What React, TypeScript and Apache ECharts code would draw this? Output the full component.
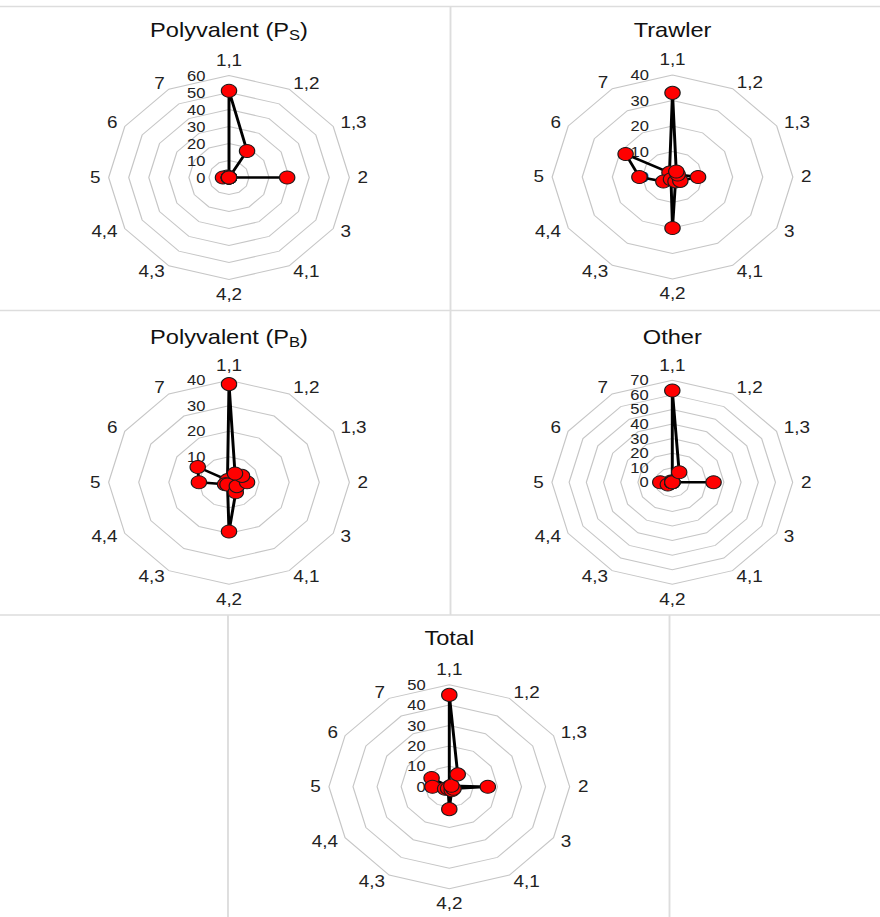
import React, { useEffect, useRef } from 'react';
import * as echarts from 'echarts';

// Radar axes, listed clockwise from the top
const indicatorNames = ['1,1', '1,2', '1,3', '2', '3', '4,1', '4,2', '4,3', '4,4', '5', '6', '7'];

// Percentages per axis for each fleet segment
const polyvalentPS = [51, 18, 0, 29, 0, 0, 0, 0, 0, 3, 1, 0];
const trawler = [33, 2.5, 2, 8.5, 3, 2, 20, 1, 3.5, 11, 18, 2];
const polyvalentPB = [38.5, 4, 5, 6, 3, 4.5, 19.3, 1, 1.5, 10, 12, 1];
const other = [63, 8, 0, 24, 0, 0, 0, 0, 3, 7, 1, 0];
const total = [45, 7, 1, 16, 2, 2, 11, 1, 2, 7, 8.5, 0];

const panelTitles = ['Polyvalent (P{s|S})', 'Trawler', 'Polyvalent (P{s|B})', 'Other', 'Total'];
const panelSeries = [polyvalentPS, trawler, polyvalentPB, other, total];
const axisMax = [60, 40, 40, 70, 50];
const axisSplits = [6, 4, 4, 7, 5];

// Page geometry (horizontal positions are given in page pixels and squeezed by STRETCH)
const PAGE_W = 880;
const PAGE_H = 917;
const STRETCH = 1.18;
const CHART_W = PAGE_W / STRETCH;
const RADIUS = 102;
const panelLayout = [
  { cx: 229, cy: 177.5, ty: 30 },
  { cx: 672.5, cy: 177, ty: 30 },
  { cx: 229, cy: 482.3, ty: 337 },
  { cx: 672.3, cy: 482.3, ty: 337 },
  { cx: 449.3, cy: 786.7, ty: 638 },
];

const FONT = "'Liberation Sans', Arial, Helvetica, sans-serif";
const FRAME = '#dddddd';
const INK = '#222222';

// ECharts lays radar axes out counter-clockwise; flip the order so they run clockwise
const clockwise = <T,>(a: T[]): T[] => [a[0], ...a.slice(1).reverse()];

export default function App() {
  const ref = useRef<HTMLDivElement>(null);

  useEffect(() => {
    if (!ref.current) return;
    const chart = echarts.init(ref.current, null, { renderer: 'svg' });

    const sx = (x: number) => x / STRETCH;
    const frameLine = (x1: number, y1: number, x2: number, y2: number) => ({
      type: 'line',
      silent: true,
      shape: { x1: sx(x1), y1, x2: sx(x2), y2 },
      style: { stroke: FRAME, lineWidth: 1.6 },
    });

    const names = clockwise(indicatorNames);

    chart.setOption({
      animation: false,
      backgroundColor: '#ffffff',
      title: panelLayout.map((p, i) => ({
        text: panelTitles[i],
        left: sx(p.cx),
        top: p.ty - 12,
        textAlign: 'center',
        padding: 0,
        textStyle: {
          fontFamily: FONT,
          fontSize: 20,
          fontWeight: 'normal',
          color: '#111111',
          lineHeight: 24,
          rich: {
            s: {
              fontFamily: FONT,
              fontSize: 14,
              color: '#111111',
              lineHeight: 16,
              verticalAlign: 'bottom',
            },
          },
        },
      })),
      radar: panelLayout.map((p, i) => ({
        center: [sx(p.cx), p.cy],
        radius: RADIUS,
        startAngle: 90,
        shape: 'polygon',
        splitNumber: axisSplits[i],
        axisNameGap: 7,
        axisName: { color: INK, fontSize: 16, fontFamily: FONT },
        axisLine: { show: false },
        axisTick: { show: false },
        splitLine: { lineStyle: { color: '#c6c6c6', width: 1 } },
        splitArea: { show: false },
        indicator: names.map((name, k) => ({
          name,
          min: 0,
          max: axisMax[i],
          ...(k === 0
            ? {
                axisLabel: {
                  show: true,
                  margin: 20,
                  color: INK,
                  fontSize: 14,
                  lineHeight: 14,
                  fontFamily: FONT,
                  showMinLabel: true,
                  showMaxLabel: true,
                  hideOverlap: false,
                },
              }
            : {}),
        })),
      })),
      series: panelSeries.map((vals, i) => ({
        type: 'radar',
        radarIndex: i,
        symbol: 'circle',
        symbolSize: 13,
        lineStyle: { color: '#000000', width: 2.5 },
        itemStyle: { color: '#ff0000', borderColor: '#1a1a1a', borderWidth: 1 },
        data: [{ value: clockwise(vals), name: panelTitles[i] }],
      })),
      graphic: [
        frameLine(0, 6.5, PAGE_W, 6.5),
        frameLine(0, 310.5, PAGE_W, 310.5),
        frameLine(0, 615, PAGE_W, 615),
        frameLine(450.5, 6.5, 450.5, 615),
        frameLine(228, 615, 228, PAGE_H),
        frameLine(669.5, 615, 669.5, PAGE_H),
      ],
    });

    return () => chart.dispose();
  }, []);

  return (
    <div
      ref={ref}
      style={{
        position: 'absolute',
        left: 0,
        top: 0,
        width: CHART_W,
        height: PAGE_H,
        transform: `scaleX(${STRETCH})`,
        transformOrigin: '0 0',
        background: '#ffffff',
      }}
    />
  );
}
